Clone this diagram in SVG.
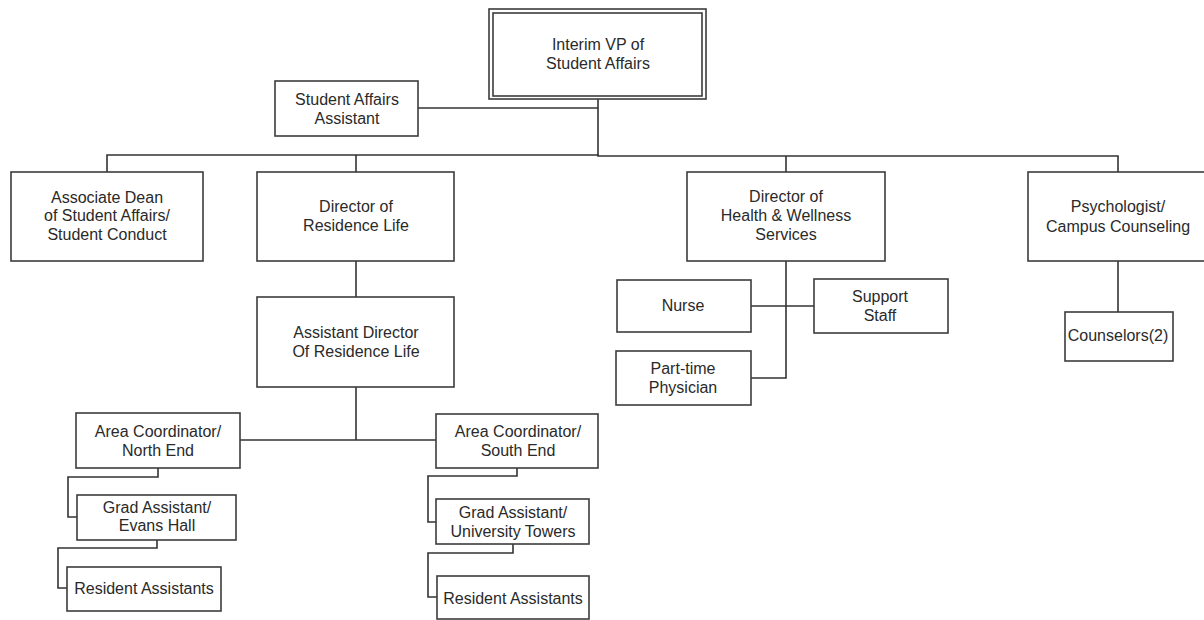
<svg xmlns="http://www.w3.org/2000/svg" width="1204" height="620" viewBox="0 0 1204 620">
<style>
.box{fill:#ffffff;stroke:#3c3c3c;stroke-width:1.6}
.ln{fill:none;stroke:#333333;stroke-width:1.6}
text{font-family:"Liberation Sans",Arial,sans-serif;font-size:16px;fill:#2a2a2a;text-anchor:middle}
</style>
<rect width="1204" height="620" fill="#ffffff"/>
<g id="connectors">
<path class="ln" d="M418,108 H598"/>
<path class="ln" d="M598,99 V156"/>
<path class="ln" d="M107,172 V155 H598 V156 H1118 V172"/>
<path class="ln" d="M356,155 V172"/>
<path class="ln" d="M786,156 V172"/>
<path class="ln" d="M356,261 V297"/>
<path class="ln" d="M356,387 V440"/>
<path class="ln" d="M240,440 H436"/>
<path class="ln" d="M158,468 V477 H68 V517 H77"/>
<path class="ln" d="M157,540 V548 H58 V588 H67"/>
<path class="ln" d="M517,468 V476 H428 V522 H436"/>
<path class="ln" d="M513,544 V553 H428 V597 H437"/>
<path class="ln" d="M786,261 V378 H751"/>
<path class="ln" d="M751,306 H814"/>
<path class="ln" d="M1118,261 V312"/>
</g>
<g id="vp">
<rect class="box" x="489" y="9" width="217" height="90"/>
<rect class="box" x="493" y="13" width="209" height="83"/>
<text x="598" y="50">Interim VP of</text>
<text x="598" y="69">Student Affairs</text>
</g>
<g id="sa-assistant">
<rect class="box" x="275" y="81" width="143" height="55"/>
<text x="347" y="105">Student Affairs</text>
<text x="347" y="124">Assistant</text>
</g>
<g id="assoc-dean">
<rect class="box" x="11" y="172" width="192" height="89"/>
<text x="107" y="203">Associate Dean</text>
<text x="107" y="221">of Student Affairs/</text>
<text x="107" y="240">Student Conduct</text>
</g>
<g id="dir-res-life">
<rect class="box" x="257" y="172" width="197" height="89"/>
<text x="356" y="212">Director of</text>
<text x="356" y="231">Residence Life</text>
</g>
<g id="asst-dir-res-life">
<rect class="box" x="257" y="297" width="197" height="90"/>
<text x="356" y="338">Assistant Director</text>
<text x="356" y="357">Of Residence Life</text>
</g>
<g id="dir-health">
<rect class="box" x="687" y="172" width="198" height="89"/>
<text x="786" y="202">Director of</text>
<text x="786" y="221">Health &amp; Wellness</text>
<text x="786" y="240">Services</text>
</g>
<g id="nurse">
<rect class="box" x="617" y="280" width="134" height="52"/>
<text x="683" y="311">Nurse</text>
</g>
<g id="support-staff">
<rect class="box" x="814" y="279" width="134" height="54"/>
<text x="880" y="302">Support</text>
<text x="880" y="321">Staff</text>
</g>
<g id="physician">
<rect class="box" x="616" y="351" width="135" height="54"/>
<text x="683" y="374">Part-time</text>
<text x="683" y="393">Physician</text>
</g>
<g id="psychologist">
<rect class="box" x="1028" y="172" width="186" height="89"/>
<text x="1118" y="212">Psychologist/</text>
<text x="1118" y="232">Campus Counseling</text>
</g>
<g id="counselors">
<rect class="box" x="1065" y="312" width="108" height="49"/>
<text x="1118" y="341">Counselors(2)</text>
</g>
<g id="ac-north">
<rect class="box" x="76" y="413" width="164" height="55"/>
<text x="158" y="437">Area Coordinator/</text>
<text x="158" y="456">North End</text>
</g>
<g id="ga-evans">
<rect class="box" x="77" y="495" width="159" height="45"/>
<text x="157" y="513">Grad Assistant/</text>
<text x="157" y="531">Evans Hall</text>
</g>
<g id="ra-north">
<rect class="box" x="67" y="567" width="154" height="44"/>
<text x="144" y="594">Resident Assistants</text>
</g>
<g id="ac-south">
<rect class="box" x="436" y="414" width="162" height="54"/>
<text x="518" y="437">Area Coordinator/</text>
<text x="518" y="456">South End</text>
</g>
<g id="ga-towers">
<rect class="box" x="436" y="499" width="153" height="45"/>
<text x="513" y="518">Grad Assistant/</text>
<text x="513" y="537">University Towers</text>
</g>
<g id="ra-south">
<rect class="box" x="437" y="576" width="152" height="43"/>
<text x="513" y="604">Resident Assistants</text>
</g>
</svg>
